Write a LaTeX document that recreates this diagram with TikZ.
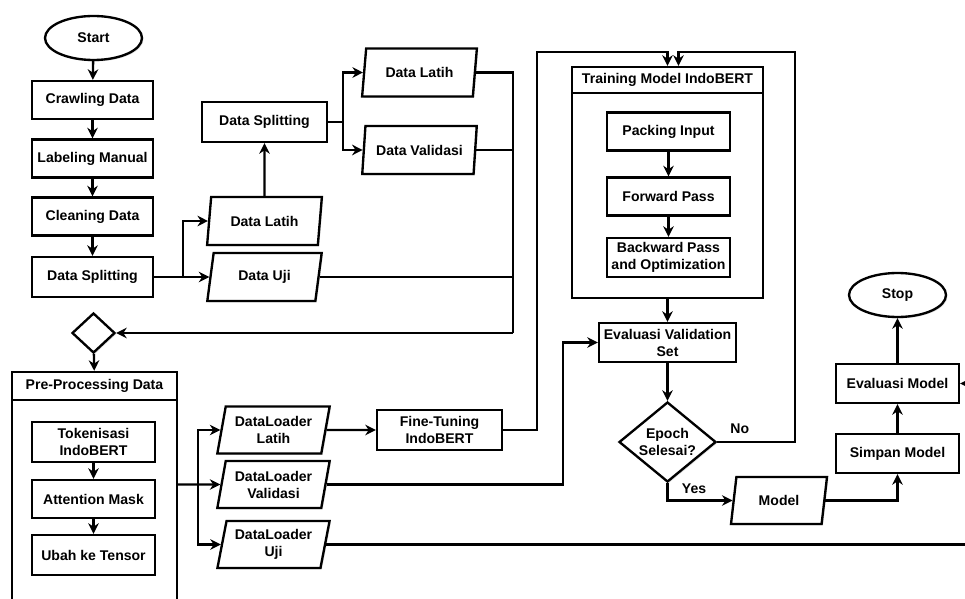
\documentclass[tikz,border=0pt]{standalone}
\usepackage{fontspec}
\setmainfont{Liberation Sans}
\usetikzlibrary{shapes.geometric,arrows.meta,shadows}

\begin{document}
\begin{tikzpicture}[
		x=0.03cm, y=-0.03cm,
		font=\fontsize{12}{14.5}\selectfont\bfseries,
		line width=2pt,
		>={Stealth[length=9pt,width=9pt]},
		shdw/.style={drop shadow={opacity=0.25,shadow xshift=1.2pt,shadow yshift=-1.2pt}},
		proc/.style={rectangle,draw,fill=white,shdw,align=center,inner sep=0pt,minimum width=3.69cm,minimum height=1.14cm},
		frame/.style={rectangle,draw,fill=white,shdw,inner sep=0pt},
		data/.style={trapezium,trapezium left angle=76,trapezium right angle=104,trapezium stretches=true,draw,fill=white,shdw,align=center,inner sep=0pt,minimum width=3.45cm,minimum height=1.44cm},
		term/.style={ellipse,draw,fill=white,shdw,inner sep=0pt,minimum width=2.91cm,minimum height=1.32cm},
		cond/.style={diamond,draw,fill=white,shdw,align=center,inner sep=0pt}
	]
	\useasboundingbox (0,0) rectangle (965,599);
	\fill[white] (0,0) rectangle (965,599);

	% data preparation
	\node[term] (start) at (93.5,38) {Start};
	\node[proc,minimum width=3.63cm] (crawl) at (92.5,100) {Crawling Data};
	\node[proc,minimum width=3.63cm] (label) at (92.5,158.5) {Labeling Manual};
	\node[proc,minimum width=3.63cm] (clean) at (92.5,216.5) {Cleaning Data};
	\node[proc,minimum width=3.63cm,minimum height=1.2cm] (split1) at (92.5,277) {Data Splitting};
	\node[data] (latih1) at (264.5,221) {Data Latih};
	\node[data] (uji1) at (264.5,277) {Data Uji};
	\node[proc,minimum width=3.75cm,minimum height=1.2cm] (split2) at (264.5,122) {Data Splitting};
	\node[data] (latih2) at (419.5,72.5) {Data Latih};
	\node[data] (valid) at (419.5,150) {Data Validasi};
	\node[cond,minimum width=1.29cm,minimum height=1.2cm] (dec1) at (93.5,333) {};

	% pre-processing
	\node[frame,minimum width=4.95cm,minimum height=6.9cm] (prebody) at (94.5,515) {};
	\node[frame,minimum width=4.95cm,minimum height=0.84cm] (prehead) at (94.5,386) {Pre-Processing Data};
	\node[proc,minimum height=1.2cm] (tok) at (93.5,442) {Tokenisasi\\IndoBERT};
	\node[proc] (att) at (93.5,499) {Attention Mask};
	\node[proc,minimum height=1.2cm] (ubah) at (93.5,555) {Ubah ke Tensor};
	\node[data,minimum width=3.39cm,minimum height=1.41cm] (dllatih) at (273.5,430) {DataLoader\\Latih};
	\node[data,minimum width=3.39cm,minimum height=1.41cm] (dlvalid) at (273.5,484.5) {DataLoader\\Validasi};
	\node[data,minimum width=3.39cm,minimum height=1.41cm] (dluji) at (273.5,544.5) {DataLoader\\Uji};
	\node[proc,minimum width=3.75cm,minimum height=1.2cm] (fine) at (439.5,430) {Fine-Tuning\\IndoBERT};

	% training
	\node[frame,minimum width=5.73cm,minimum height=6.15cm] (trainbody) at (667.5,195.5) {};
	\node[frame,minimum width=5.73cm,minimum height=0.78cm] (trainhead) at (667.5,80) {Training Model IndoBERT};
	\node[proc] (pack) at (668.5,131.5) {Packing Input};
	\node[proc] (fwd) at (668.5,196.5) {Forward Pass};
	\node[proc,minimum height=1.17cm] (back) at (668.5,257.5) {Backward Pass\\and Optimization};
	\node[proc,minimum width=4.11cm,minimum height=1.17cm] (evalval) at (667.5,342.5) {Evaluasi Validation\\Set};
	\node[cond,aspect=1.2,minimum width=2.91cm,minimum height=2.4cm] (epoch) at (667.5,442) {Epoch\\Selesai?};
	\node[data,minimum width=2.88cm,minimum height=1.41cm] (model) at (779,500.5) {Model};
	\node[proc,minimum height=1.17cm] (simpan) at (897.5,453.5) {Simpan Model};
	\node[proc,minimum height=1.17cm] (evalm) at (897.5,383.5) {Evaluasi Model};
	\node[term] (stop) at (897.5,295) {Stop};

	\coordinate (s1) at (183,0);
	\coordinate (s2) at (343,0);
	\coordinate (s3) at (198,0);
	\coordinate (j1) at (513,333);
	\coordinate (ft) at (537,52);
	\coordinate (nt) at (795,52);
	\coordinate (vx) at (563,0);
	\coordinate (rx) at (985,0);

	\draw[->] (start) -- (crawl);
	\draw[->] (crawl) -- (label);
	\draw[->] (label) -- (clean);
	\draw[->] (clean) -- (split1);
	\draw[->] (split1.east) -- (split1.east -| s1) |- (latih1.west);
	\draw[->] (split1.east -| s1) |- (uji1.west);
	\draw[->] (latih1) -- (split2);
	\draw[->] (split2.east) -- (split2.east -| s2) |- (latih2.west);
	\draw[->] (split2.east -| s2) |- (valid.west);
	\draw (latih2.east) -| (j1);
	\draw (valid.east) -- (valid.east -| j1);
	\draw (uji1.east) -- (uji1.east -| j1);
	\draw[->] (j1) -- (dec1.east);
	\draw[->] (dec1) -- (prehead);

	\draw[->] (tok) -- (att);
	\draw[->] (att) -- (ubah);
	\draw[->] (prebody.east |- dlvalid) -- (dlvalid.west);
	\draw[->] (s3 |- dlvalid) |- (dllatih.west);
	\draw[->] (s3 |- dlvalid) |- (dluji.west);
	\draw[->] (dllatih) -- (fine);
	\draw[->] (fine.east) -| (ft) -| (trainhead.north);

	\draw[->] (pack) -- (fwd);
	\draw[->] (fwd) -- (back);
	\draw[->] (trainbody) -- (evalval);
	\draw[->] (dlvalid.east) -- (dlvalid.east -| vx) |- (evalval.west);
	\draw[->] (evalval) -- (epoch);
	\draw[->] (epoch.east) -- node[pos=0.29,above=3pt]{No} (epoch.east -| nt) -- (nt) -| ([xshift=0.33cm]trainhead.north);
	\draw[->] (epoch.south) |- node[pos=0.15,right=8pt]{Yes} (model.west);
	\draw[->] (model.east) -| (simpan.south);
	\draw[->] (simpan) -- (evalm);
	\draw[->] (evalm) -- (stop);
	\draw[->] (dluji.east) -- (dluji.east -| rx) |- (evalm.east);
\end{tikzpicture}
\end{document}
